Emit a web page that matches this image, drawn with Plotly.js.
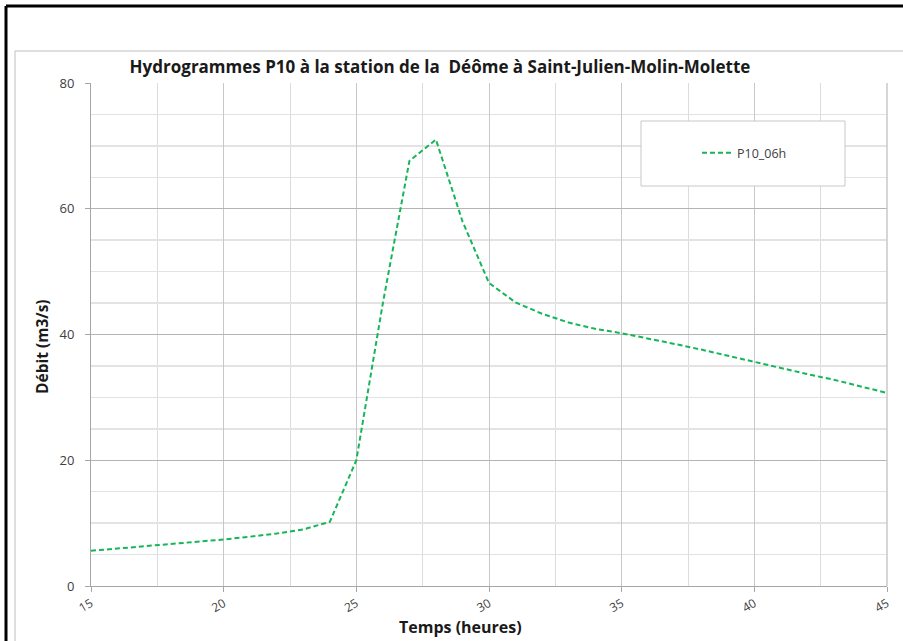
<!DOCTYPE html>
<html>
<head>
<meta charset="utf-8">
<script src="https://cdn.plot.ly/plotly-3.0.1.min.js"></script>
<style>html,body{margin:0;padding:0;background:#fff;}#chart{width:903px;height:641px;}</style>
</head>
<body>
<div id="chart"></div>
<script>
// Data
var hours = [15, 16, 17, 18, 19, 20, 21, 22, 23, 24, 25, 26, 27, 28, 29, 30, 31, 32, 33, 34, 35, 36, 37, 38, 39, 40, 41, 42, 43, 44, 45];
var debitP10_06h = [5.6, 5.95, 6.3, 6.7, 7.05, 7.4, 7.85, 8.35, 9.0, 10.2, 20.0, 45.0, 67.6, 71.0, 58.0, 48.2, 45.1, 43.3, 41.9, 40.9, 40.2, 39.4, 38.5, 37.6, 36.6, 35.6, 34.7, 33.7, 32.8, 31.8, 30.7];
var seriesName = 'P10_06h';
var chartTitle = 'Hydrogrammes P10 à la station de la\u00a0 Déôme à Saint-Julien-Molin-Molette';
var xTitle = 'Temps (heures)';
var yTitle = 'Débit (m3/s)';

// pixel helpers for decoration placement (plot area 91..887 x 83..586)
var L = 91, R = 887, T = 83, B = 586;
function px(x) { return (x - L) / (R - L); }
function py(y) { return (B - y) / (B - T); }

var font = 'Open Sans, Liberation Sans, sans-serif';

var trace = {
  x: hours, y: debitP10_06h, name: seriesName, type: 'scatter', mode: 'lines',
  line: {color: '#16b55a', width: 2, dash: '5px,3px'}
};

var layout = {
  width: 903, height: 641,
  margin: {l: L, r: 903 - R, t: T, b: 641 - B, pad: 0},
  paper_bgcolor: '#ffffff', plot_bgcolor: '#ffffff',
  font: {family: font, color: '#404040'},
  title: {
    text: '<b>' + chartTitle + '</b>',
    font: {family: font, size: 17, color: '#1a1a1a'},
    x: px(440), xref: 'paper', xanchor: 'center',
    y: 1 - 67 / 641, yref: 'container', yanchor: 'middle'
  },
  xaxis: {
    range: [15, 45], dtick: 5, tick0: 15,
    showgrid: true, gridcolor: '#c8c8c8', gridwidth: 1,
    minor: {dtick: 2.5, showgrid: true, gridcolor: '#dcdcdc', gridwidth: 1},
    zeroline: false, showline: true, linecolor: '#a6a6a6', linewidth: 1,
    ticks: 'outside', ticklen: 5, tickcolor: '#a6a6a6',
    tickangle: -30, tickfont: {family: font, size: 12, color: '#404040'},
    mirror: false, fixedrange: true
  },
  yaxis: {
    range: [0, 80], dtick: 20,
    showgrid: true, gridcolor: '#b4b4b4', gridwidth: 1,
    minor: {dtick: 5, showgrid: true, gridcolor: '#e3e3e3', gridwidth: 1.5},
    zeroline: false, showline: true, linecolor: '#a6a6a6', linewidth: 1,
    ticks: 'outside', ticklen: 5, tickcolor: '#a6a6a6',
    tickfont: {family: font, size: 13, color: '#404040'},
    ticklabelstandoff: 8, fixedrange: true
  },
  showlegend: true,
  legend: {
    x: px(697), xanchor: 'left', y: py(153), yanchor: 'middle',
    bgcolor: 'rgba(0,0,0,0)', borderwidth: 0,
    font: {family: font, size: 12.5, color: '#404040'}
  },
  shapes: [
    // legend box
    {type: 'rect', xref: 'paper', yref: 'paper', x0: px(641), x1: px(845), y0: py(186), y1: py(121),
     line: {color: '#c8c8c8', width: 1}, fillcolor: '#ffffff', layer: 'above'},
    // right border of plot area
    {type: 'line', xref: 'paper', yref: 'paper', x0: 1, x1: 1, y0: 0, y1: 1, line: {color: '#c8c8c8', width: 1.5}},
    // outer black frame
    {type: 'line', xref: 'paper', yref: 'paper', x0: px(6), x1: px(903), y0: py(6), y1: py(6), line: {color: '#000000', width: 3}},
    {type: 'line', xref: 'paper', yref: 'paper', x0: px(6), x1: px(6), y0: py(6), y1: py(641), line: {color: '#000000', width: 3}},
    // inner grey chart border
    {type: 'line', xref: 'paper', yref: 'paper', x0: px(15), x1: px(903), y0: py(51), y1: py(51), line: {color: '#bfbfbf', width: 1}},
    {type: 'line', xref: 'paper', yref: 'paper', x0: px(15), x1: px(15), y0: py(51), y1: py(641), line: {color: '#bfbfbf', width: 1}}
  ],
  annotations: [
    {text: '<b>' + xTitle + '</b>', xref: 'paper', yref: 'paper', x: px(460), y: py(627),
     xanchor: 'center', yanchor: 'middle', showarrow: false, font: {family: font, size: 16, color: '#1a1a1a'}},
    {text: '<b>' + yTitle + '</b>', xref: 'paper', yref: 'paper', x: px(42), y: py(347),
     xanchor: 'center', yanchor: 'middle', textangle: -90, showarrow: false, font: {family: font, size: 15.5, color: '#1a1a1a'}}
  ]
};

Plotly.newPlot('chart', [trace], layout, {displayModeBar: false, staticPlot: true});
</script>
</body>
</html>
